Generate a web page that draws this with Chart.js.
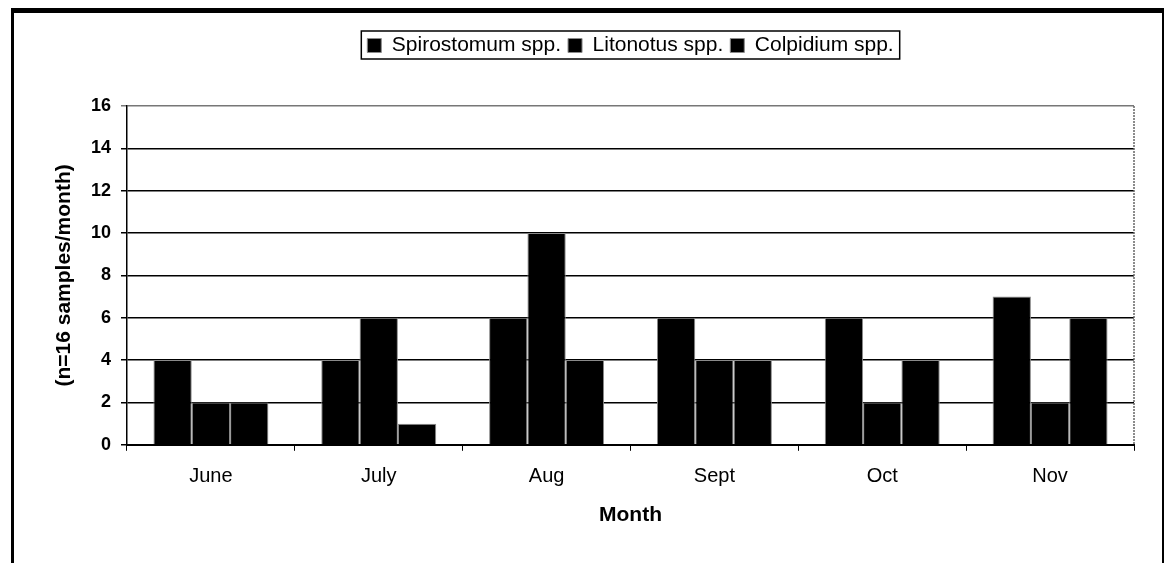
<!DOCTYPE html>
<html>
<head>
<meta charset="utf-8">
<script src="https://cdn.jsdelivr.net/npm/chart.js@4.4.1/dist/chart.umd.min.js"></script>
<style>
    html, body { margin: 0; padding: 0; background: #fff; overflow: hidden; }
    #frame {
        position: absolute; left: 11px; top: 8px; width: 1148px; height: 620px;
        border-left: 3px solid #000; border-top: 5px solid #000; border-right: 2px solid #000;
    }
    #wrap { position: absolute; left: 0; top: 0; width: 1166px; height: 563px; }
</style>
</head>
<body>
<div id="frame"></div>
<div id="wrap"><canvas id="chart" width="1166" height="563"></canvas></div>
<script>
// Ciliate counts per month
const months = ['June', 'July', 'Aug', 'Sept', 'Oct', 'Nov'];
const spirostomum = [4, 4, 6, 6, 6, 7];
const litonotus = [2, 6, 10, 4, 2, 2];
const colpidium = [2, 1, 4, 4, 4, 6];
const seriesNames = ['Spirostomum spp.', 'Litonotus spp.', 'Colpidium spp.'];

const font = "'Liberation Sans', Arial, sans-serif";
const legendGap = 40; // extra room between legend and plot

// legend centred over the plot, boxed, plus dotted right edge of the plot
const extras = {
    id: 'extras',
    afterInit(chart) {
        const lg = chart.legend;
        const fit = lg.fit;
        lg.fit = function() {
            fit.call(this);
            this.height += legendGap;
        };
    },
    afterUpdate(chart) {
        const lg = chart.legend;
        const a = chart.chartArea;
        const shift = (a.left + a.right) / 2 - (lg.left + lg.right) / 2;
        lg.left += shift;
        lg.right += shift;
        (lg.legendHitBoxes || []).forEach(b => { b.left += shift; });
    },
    afterDraw(chart) {
        const c = chart.ctx;
        const boxes = chart.legend.legendHitBoxes;
        if (boxes && boxes.length) {
            const left = Math.min(...boxes.map(b => b.left)) - 6;
            const right = Math.max(...boxes.map(b => b.left + b.width)) + 6;
            const top = Math.min(...boxes.map(b => b.top)) - 4;
            const bottom = Math.max(...boxes.map(b => b.top + b.height)) + 3;
            c.save();
            c.strokeStyle = '#000';
            c.lineWidth = 1.5;
            c.strokeRect(left, top, right - left, bottom - top);
            c.restore();
        }
        const a = chart.chartArea;
        c.save();
        c.strokeStyle = '#666';
        c.lineWidth = 1.5;
        c.setLineDash([2, 1]);
        c.beginPath();
        c.moveTo(a.right, a.top);
        c.lineTo(a.right, a.bottom);
        c.stroke();
        c.restore();
    }
};

function makeSet(label, data) {
    return {
        label: label,
        data: data,
        backgroundColor: '#000',
        borderColor: '#8a8a8a',
        borderWidth: 1,
        barPercentage: 1,
        categoryPercentage: 0.685
    };
}

new Chart(document.getElementById('chart'), {
    type: 'bar',
    data: {
        labels: months,
        datasets: [
            makeSet(seriesNames[0], spirostomum),
            makeSet(seriesNames[1], litonotus),
            makeSet(seriesNames[2], colpidium)
        ]
    },
    options: {
        responsive: false,
        animation: false,
        devicePixelRatio: 1,
        layout: { padding: { left: 48, right: 32, top: 28, bottom: 31 } },
        plugins: {
            tooltip: { enabled: false },
            legend: {
                position: 'top',
                labels: {
                    color: '#000',
                    boxWidth: 14,
                    boxHeight: 14,
                    padding: 7,
                    font: { family: font, size: 21 }
                }
            }
        },
        scales: {
            x: {
                grid: {
                    display: true,
                    drawOnChartArea: false,
                    drawTicks: true,
                    tickLength: 6,
                    color: '#000',
                    lineWidth: 1
                },
                border: { color: '#000', width: 2 },
                ticks: { color: '#000', font: { family: font, size: 20 }, padding: 14 },
                title: {
                    display: true,
                    text: 'Month',
                    color: '#000',
                    font: { family: font, size: 21, weight: 'bold' },
                    padding: { top: 0 }
                }
            },
            y: {
                min: 0,
                max: 16,
                afterFit(scale) { scale.width = 79; },
                grid: {
                    color: ctx => (ctx.tick && ctx.tick.value === 16) ? '#777' : '#000',
                    lineWidth: 1.5,
                    tickLength: 6
                },
                border: { color: '#000', width: 1.5 },
                ticks: {
                    stepSize: 2,
                    color: '#000',
                    padding: 10,
                    font: { family: font, size: 18, weight: 'bold' }
                },
                title: {
                    display: true,
                    text: '(n=16 samples/month)',
                    color: '#000',
                    font: { family: font, size: 21, weight: 'bold' }
                }
            }
        }
    },
    plugins: [extras]
});
</script>
</body>
</html>
